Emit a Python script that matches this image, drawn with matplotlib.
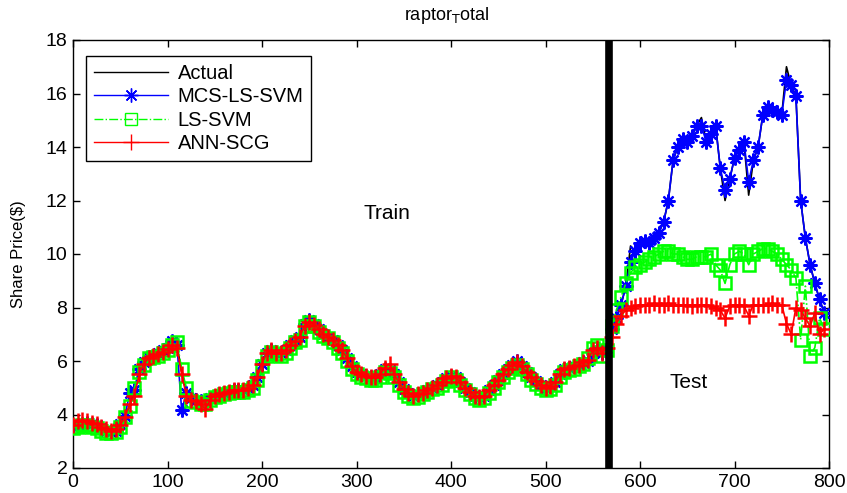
import numpy as np
import matplotlib
matplotlib.use("Agg")
import matplotlib.pyplot as plt

plt.rcParams['font.family'] = ['Liberation Sans', 'DejaVu Sans']

# sample index (every 5 days)
t = list(range(0, 800, 5))

actual = [
3.55, 3.6, 3.65, 3.7, 3.65, 3.6, 3.5, 3.4, 3.35, 3.4,
3.65, 3.95, 4.3, 4.9, 5.7, 5.95, 6.15, 6.2, 6.3, 6.4,
6.5, 6.75, 6.6, 5.6, 4.8, 4.6, 4.55, 4.5, 4.45, 4.6,
4.7, 4.75, 4.8, 4.85, 4.9, 4.9, 4.9, 5.0, 5.1, 5.4,
5.9, 6.3, 6.4, 6.3, 6.3, 6.4, 6.6, 6.8, 6.9, 7.4,
7.5, 7.4, 7.2, 7.0, 6.9, 6.8, 6.6, 6.4, 6.1, 5.8,
5.6, 5.5, 5.45, 5.4, 5.4, 5.5, 5.7, 5.65, 5.5, 5.2,
4.95, 4.8, 4.7, 4.75, 4.8, 4.9, 5.0, 5.1, 5.2, 5.35,
5.45, 5.4, 5.2, 5.0, 4.85, 4.7, 4.65, 4.7, 4.9, 5.1,
5.3, 5.5, 5.7, 5.85, 5.95, 5.8, 5.6, 5.4, 5.25, 5.1,
5.0, 5.05, 5.2, 5.5, 5.7, 5.75, 5.8, 5.85, 5.95, 6.0,
6.3, 6.4, 6.3, 6.5, 7.2, 7.6, 8.1, 8.8, 10.3, 10.1,
10.4, 10.5, 10.4, 10.6, 10.8, 11.2, 12.0, 13.5, 14.0, 14.3,
14.2, 14.4, 14.8, 15.1, 14.2, 14.5, 14.8, 13.2, 12.0, 12.8,
13.6, 13.9, 14.2, 12.2, 13.5, 14.0, 15.2, 15.5, 15.4, 15.3,
15.2, 17.0, 16.3, 15.9, 12.0, 10.6, 9.6, 8.9, 8.3, 7.8]

mcs_ls_svm = [
3.55, 3.6, 3.65, 3.7, 3.65, 3.6, 3.5, 3.4, 3.35, 3.4,
3.65, 3.95, 4.8, 4.9, 5.7, 5.95, 6.15, 6.2, 6.3, 6.4,
6.5, 6.75, 6.6, 4.15, 4.8, 4.6, 4.55, 4.5, 4.45, 4.6,
4.7, 4.75, 4.8, 4.85, 4.9, 4.9, 4.9, 5.0, 5.1, 5.4,
5.9, 6.3, 6.4, 6.3, 6.3, 6.4, 6.6, 6.8, 6.9, 7.4,
7.55, 7.4, 7.2, 7.0, 6.9, 6.8, 6.6, 6.4, 6.1, 5.8,
5.6, 5.5, 5.45, 5.4, 5.4, 5.5, 5.7, 5.65, 5.5, 5.2,
4.95, 4.8, 4.7, 4.75, 4.8, 4.9, 5.0, 5.1, 5.2, 5.35,
5.45, 5.4, 5.2, 5.0, 4.85, 4.7, 4.65, 4.7, 4.9, 5.1,
5.3, 5.5, 5.7, 5.85, 6.0, 5.8, 5.6, 5.4, 5.25, 5.1,
5.0, 5.05, 5.2, 5.5, 5.7, 5.75, 5.8, 5.85, 5.95, 6.0,
6.3, 6.4, 6.3, 6.5, 7.2, 7.6, 8.1, 8.8, 9.7, 10.1,
10.4, 10.5, 10.4, 10.6, 10.8, 11.2, 12.0, 13.5, 14.0, 14.3,
14.2, 14.4, 14.8, 14.8, 14.2, 14.5, 14.8, 13.2, 12.4, 12.8,
13.6, 13.9, 14.2, 12.7, 13.5, 14.0, 15.2, 15.5, 15.4, 15.3,
15.2, 16.5, 16.3, 15.9, 12.0, 10.6, 9.6, 8.9, 8.3, 7.8]

ls_svm = [
3.5, 3.55, 3.6, 3.6, 3.55, 3.5, 3.4, 3.3, 3.3, 3.35,
3.55, 3.9, 4.3, 5.0, 5.6, 5.85, 6.1, 6.15, 6.2, 6.3,
6.4, 6.6, 6.7, 5.7, 5.0, 4.5, 4.45, 4.4, 4.4, 4.55,
4.65, 4.7, 4.75, 4.8, 4.85, 4.85, 4.85, 4.9, 5.0, 5.3,
5.8, 6.2, 6.35, 6.25, 6.2, 6.3, 6.5, 6.7, 6.8, 7.3,
7.45, 7.3, 7.1, 6.95, 6.85, 6.7, 6.5, 6.3, 6.0, 5.7,
5.5, 5.4, 5.35, 5.3, 5.3, 5.4, 5.6, 5.55, 5.4, 5.1,
4.85, 4.7, 4.6, 4.65, 4.75, 4.85, 4.95, 5.0, 5.1, 5.25,
5.4, 5.3, 5.1, 4.9, 4.75, 4.6, 4.55, 4.6, 4.8, 5.0,
5.2, 5.4, 5.6, 5.75, 5.85, 5.7, 5.5, 5.3, 5.15, 5.0,
4.9, 4.95, 5.1, 5.4, 5.6, 5.65, 5.7, 5.8, 5.9, 6.1,
6.5, 6.6, 6.2, 6.4, 7.3, 7.9, 8.4, 8.9, 9.3, 9.5,
9.6, 9.7, 9.8, 9.9, 10.0, 10.1, 10.1, 10.0, 10.0, 9.9,
9.8, 9.8, 9.9, 9.9, 9.9, 10.0, 9.6, 9.4, 8.9, 9.6,
10.0, 10.1, 10.0, 9.6, 10.0, 10.1, 10.2, 10.2, 10.1, 10.0,
9.8, 9.6, 9.4, 9.1, 6.8, 8.8, 6.2, 6.5, 7.6, 7.2]

ann_scg = [
3.6, 3.75, 3.8, 3.75, 3.7, 3.65, 3.55, 3.45, 3.4, 3.45,
3.6, 3.9, 4.4, 4.7, 5.5, 5.9, 6.1, 6.2, 6.25, 6.35,
6.45, 6.6, 6.5, 5.5, 4.7, 4.55, 4.5, 4.4, 4.2, 4.55,
4.7, 4.75, 4.8, 4.85, 4.9, 4.9, 4.9, 5.0, 5.1, 5.4,
5.9, 6.3, 6.4, 6.3, 6.3, 6.4, 6.6, 6.75, 6.9, 7.3,
7.45, 7.35, 7.2, 7.0, 6.9, 6.8, 6.6, 6.4, 6.1, 5.8,
5.6, 5.5, 5.45, 5.4, 5.4, 5.5, 5.75, 5.9, 5.5, 5.2,
4.95, 4.8, 4.7, 4.75, 4.8, 4.9, 5.0, 5.1, 5.2, 5.35,
5.45, 5.4, 5.2, 5.0, 4.85, 4.7, 4.65, 4.7, 4.9, 5.1,
5.3, 5.5, 5.7, 5.85, 5.95, 5.8, 5.6, 5.4, 5.25, 5.1,
5.0, 5.05, 5.2, 5.5, 5.7, 5.75, 5.8, 5.85, 5.95, 6.05,
6.4, 6.5, 6.3, 6.5, 6.9, 7.4, 7.7, 7.9, 8.0, 8.05,
8.1, 8.1, 8.1, 8.15, 8.1, 8.1, 8.15, 8.1, 8.1, 8.1,
8.1, 8.05, 8.1, 8.1, 8.1, 8.05, 8.0, 7.9, 7.6, 8.05,
8.1, 8.1, 8.05, 7.7, 8.1, 8.1, 8.1, 8.1, 8.15, 8.1,
8.1, 7.4, 7.0, 8.0, 7.9, 7.6, 7.3, 7.8, 7.0, 7.2]

split_point = 567
series_labels = ['Actual', 'MCS-LS-SVM', 'LS-SVM', 'ANN-SCG']
x_ticks = [0, 100, 200, 300, 400, 500, 600, 700, 800]
y_ticks = [2, 4, 6, 8, 10, 12, 14, 16, 18]

fig = plt.figure(figsize=(8.47, 4.93), dpi=100)
ax = fig.add_axes([73/847, 25/493, 756/847, 428/493])

ax.plot(t, actual, color='black', lw=1.2, label=series_labels[0], zorder=2)
ax.plot(t, mcs_ls_svm, color='blue', lw=1.2, marker=(8, 2, 0), ms=10,
        mew=1.6, label=series_labels[1], zorder=3)
ax.plot(t, ls_svm, color='#00ff00', lw=1.2, ls='-.', marker='s', ms=8,
        mfc='none', mew=1.8, label=series_labels[2], zorder=4)
ax.plot(t, ann_scg, color='red', lw=1.2, marker='+', ms=11, mew=1.8,
        label=series_labels[3], zorder=5)

ax.axvline(split_point, color='black', lw=5.5, zorder=6)

ax.set_xlim(0, 800)
ax.set_ylim(2, 18)
ax.set_xticks(x_ticks)
ax.set_yticks(y_ticks)
ax.tick_params(direction='in', top=True, right=True, length=5, width=1,
               labelsize=14, pad=4)
for s in ax.spines.values():
    s.set_linewidth(1.0)

ax.text(332, 11.5, 'Train', fontsize=15, ha='center', va='center')
ax.text(651, 5.2, 'Test', fontsize=15, ha='center', va='center')

leg = ax.legend(loc='upper left', bbox_to_anchor=(0.017, 0.963),
                borderaxespad=0, fontsize=14.5, numpoints=1,
                handlelength=3.7, fancybox=False, framealpha=1,
                edgecolor='black', labelspacing=0.22, borderpad=0.4,
                handletextpad=0.45)
leg.get_frame().set_linewidth(1.0)
for h in leg.legend_handles:
    h.set_markeredgewidth(1.0)
    h.set_linewidth(1.0)

fig.text(447/847, 1 - 15/493, r'raptor$_{\mathsf{T}}$otal', ha='center',
         va='center', fontsize=13)
fig.text(18/847, 1 - 254/493, 'Share Price($)', rotation=90, ha='center',
         va='center', fontsize=12)

fig.savefig('out.png', dpi=100)
